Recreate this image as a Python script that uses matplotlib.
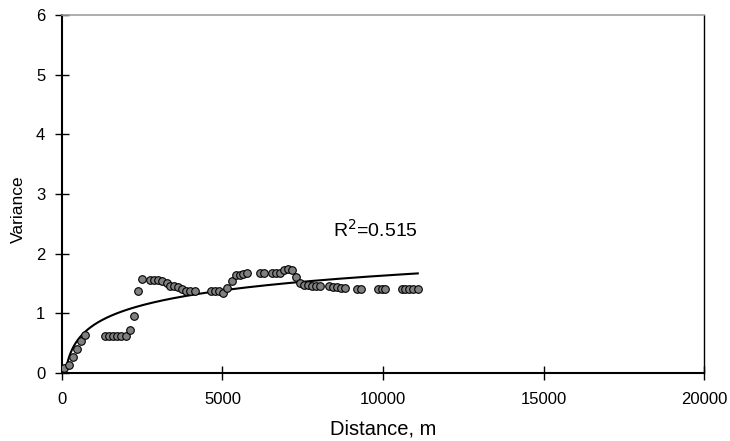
import numpy as np
import matplotlib
matplotlib.use("Agg")
import matplotlib.pyplot as plt

plt.rcParams['font.family'] = ['Liberation Sans', 'DejaVu Sans']

distance = [62, 219, 344, 479, 604, 719,
            1333, 1469, 1594, 1729, 1854, 1979, 2125, 2229, 2365, 2490,
            2750, 2875, 3000, 3104, 3260, 3375, 3500, 3625,
            3750, 3875, 4000, 4146, 4646, 4771, 4896, 5031, 5146, 5281,
            5406, 5531, 5646, 5771, 6156, 6291, 6541, 6677, 6802,
            6917, 7042, 7167, 7302, 7406, 7531, 7666, 7791, 7927, 8052,
            8312, 8447, 8572, 8697, 8822, 9197, 9322, 9834, 9959, 10072,
            10584, 10697, 10822, 10947, 11084]
variance = [0.08, 0.13, 0.26, 0.41, 0.54, 0.63,
            0.62, 0.62, 0.62, 0.62, 0.62, 0.62, 0.72, 0.955, 1.38, 1.58,
            1.56, 1.56, 1.56, 1.55, 1.50, 1.46, 1.45, 1.44,
            1.40, 1.38, 1.38, 1.37, 1.37, 1.37, 1.37, 1.34, 1.43, 1.545,
            1.645, 1.645, 1.66, 1.67, 1.67, 1.67, 1.67, 1.67, 1.67,
            1.72, 1.74, 1.72, 1.605, 1.50, 1.48, 1.47, 1.46, 1.46, 1.45,
            1.45, 1.44, 1.44, 1.43, 1.43, 1.41, 1.40, 1.40, 1.40, 1.40,
            1.40, 1.40, 1.40, 1.40, 1.40]
# logarithmic trendline y = a*ln(x) + b, coefficients
trend_a = 0.358
trend_b = -1.665
r2_label = "R$^2$=0.515"

x = np.array(distance, dtype=float)
y = np.array(variance, dtype=float)

fig = plt.figure(figsize=(7.3, 4.41), dpi=100)
ax = fig.add_axes([0.0849, 0.1542, 0.8795, 0.8118])

xs = np.linspace(x.min(), x.max(), 600)
ax.plot(xs, trend_a * np.log(xs) + trend_b, color='black', lw=1.5, zorder=2)
ax.scatter(x, y, s=30, facecolor='#808080', edgecolor='black', linewidths=0.8, zorder=3)

ax.set_xlim(0, 20000)
ax.set_ylim(0, 6)
ax.set_xticks([0, 5000, 10000, 15000, 20000])
ax.set_yticks([0, 1, 2, 3, 4, 5, 6])
ax.tick_params(direction='inout', length=10, width=1, labelsize=12, colors='black', pad=7)
ax.tick_params(axis='x', pad=9)
ax.spines['left'].set_linewidth(1.5)
ax.spines['bottom'].set_linewidth(1.5)
ax.spines['top'].set_color('#a0a0a0')
ax.spines['top'].set_linewidth(1.2)
ax.spines['right'].set_linewidth(1.0)
ax.set_xlabel('Distance, m', fontsize=14.5)
ax.set_ylabel('Variance', fontsize=12.5)
ax.xaxis.set_label_coords(0.5, -0.13)
ax.yaxis.set_label_coords(-0.056, 0.458)
ax.text(8440, 2.40, r2_label, fontsize=14, ha='left', va='center')

fig.savefig('out.png', dpi=100)
